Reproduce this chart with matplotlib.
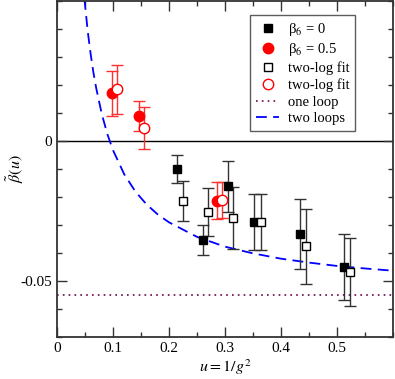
import matplotlib
matplotlib.use("Agg")
import matplotlib.pyplot as plt
from matplotlib.lines import Line2D
from matplotlib.ticker import MultipleLocator

plt.rcParams['font.family'] = ['Liberation Serif', 'DejaVu Serif']
plt.rcParams['mathtext.fontset'] = 'stix'

# beta_6 = 0 data and two-log fits
u_b0 = [0.2147, 0.2599, 0.3045, 0.352, 0.4347, 0.5132]
beta_b0 = [-0.0100, -0.0354, -0.0162, -0.0289, -0.0333, -0.0451]
err_b0 = [0.0049, 0.0055, 0.0091, 0.0100, 0.0124, 0.0117]
u_b0_fit = [0.2242, 0.270, 0.3146, 0.364, 0.4442, 0.5227]
beta_b0_fit = [-0.0214, -0.0254, -0.0276, -0.0289, -0.0377, -0.0469]
err_b0_fit = [0.0071, 0.0085, 0.0110, 0.0100, 0.0134, 0.0122]

# beta_6 = 0.5 data and two-log fits
u_b5 = [0.098, 0.147, 0.286]
beta_b5 = [0.0171, 0.0090, -0.0213]
err_b5 = [0.0080, 0.0054, 0.0066]
u_b5_fit = [0.1076, 0.1557, 0.2955]
beta_b5_fit = [0.0185, 0.0046, -0.0211]
err_b5_fit = [0.0088, 0.0074, 0.0066]

# perturbative curves
one_loop = -0.055
u_2loop = [0.048, 0.055, 0.06, 0.065, 0.07, 0.08, 0.09, 0.10, 0.12, 0.14,
           0.16, 0.18, 0.20, 0.25, 0.30, 0.35, 0.40, 0.45, 0.50, 0.55, 0.60]
beta_2loop = [0.0527, 0.0390, 0.0312, 0.0245, 0.0189, 0.0096, 0.0024,
              -0.0033, -0.0119, -0.0181, -0.0227, -0.0263, -0.0291, -0.0343,
              -0.0378, -0.0402, -0.0421, -0.0435, -0.0447, -0.0456, -0.0464]

maroon = '#670748'
blue = '#0000ff'
dark = '#333333'

fig = plt.figure(figsize=(3.95, 3.79), dpi=100)
ax = fig.add_axes([0.1443, 0.1116, 0.8507, 0.8854])

ax.axhline(0, color='black', lw=1.0, zorder=1)
ax.axhline(one_loop, color=maroon, lw=1.2, ls=(0, (1, 2.5)), zorder=1)
ax.plot(u_2loop, beta_2loop, color=blue, lw=1.3, ls=(0, (6, 3.5)), zorder=2)

eb = dict(capsize=4, elinewidth=1.0, capthick=1.0, lw=0, zorder=3)
ax.errorbar(u_b0, beta_b0, yerr=err_b0, fmt='s', color='black', ecolor=dark, ms=6, **eb)
ax.errorbar(u_b5, beta_b5, yerr=err_b5, fmt='o', color='red', ecolor='#ff3030', ms=7.5, **eb)
ax.errorbar(u_b0_fit, beta_b0_fit, yerr=err_b0_fit, fmt='s', color='black', ecolor=dark,
            ms=6, mfc='white', mew=1.0, **eb)
ax.errorbar(u_b5_fit, beta_b5_fit, yerr=err_b5_fit, fmt='o', color='red', ecolor='#ff3030',
            ms=7.5, mfc='white', mew=1.0, **eb)

ax.set_xlim(0, 0.6)
ax.set_ylim(-0.07, 0.05)
ax.set_xticks([0, 0.1, 0.2, 0.3, 0.4, 0.5])
ax.set_xticklabels(['0', '0.1', '0.2', '0.3', '0.4', '0.5'])
ax.xaxis.set_minor_locator(MultipleLocator(0.05))
ax.set_yticks([-0.05, 0])
ax.set_yticklabels(['-0.05', '0'])
ax.yaxis.set_minor_locator(MultipleLocator(0.01))
ax.tick_params(which='both', direction='in', top=True, right=True, labelsize=11, color=dark)
ax.tick_params(which='major', length=7, width=1.0)
ax.tick_params(which='minor', length=3.5, width=1.0)
for s in ax.spines.values():
    s.set_linewidth(1.3)
    s.set_color(dark)

ax.set_xlabel(r'$u = 1/g^2$', fontsize=11.5)
ax.xaxis.set_label_coords(0.5, -0.062)
ax.set_ylabel(r'$\tilde{\beta}(u)$', fontsize=11.5, va='center')
ax.yaxis.set_label_coords(-0.125, 0.5)

handles = [
    Line2D([], [], ls='none', marker='s', color='black', ms=6),
    Line2D([], [], ls='none', marker='o', color='red', ms=7.5),
    Line2D([], [], ls='none', marker='s', color='black', mfc='white', ms=6),
    Line2D([], [], ls='none', marker='o', color='red', mfc='white', ms=7.5),
    Line2D([], [], color=maroon, lw=1.2, ls=(0, (1, 2.5))),
    Line2D([], [], color=blue, lw=1.3, ls=(0, (6, 3.5))),
]
labels = ['β$_6$ = 0', 'β$_6$ = 0.5', 'two-log fit', 'two-log fit', 'one loop', 'two loops']
leg = ax.legend(handles, labels, loc='upper right', bbox_to_anchor=(0.888, 0.958),
                fontsize=10.5, frameon=True, fancybox=False, handlelength=1.6,
                handletextpad=0.6, labelspacing=0.22, borderpad=0.4, borderaxespad=0)
leg.get_frame().set_edgecolor(dark)
leg.get_frame().set_linewidth(1.0)

fig.savefig('out.png', dpi=100)
